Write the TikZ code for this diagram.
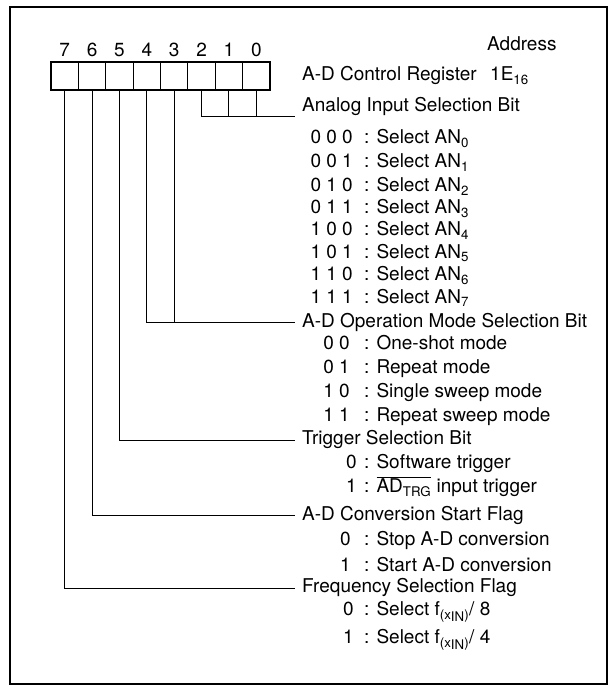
\documentclass[tikz,border=0pt]{standalone}
\usepackage{fontspec}
\setmainfont{TeX Gyre Heros}
\usetikzlibrary{positioning}
\def\regcellw{27.375}
\def\regcellh{28}
\def\linex{295}
\def\headx{302}
\def\colonx{364}

\begin{document}
\begin{tikzpicture}[x=1pt, y=-1pt, font=\fontsize{19}{22}\selectfont,
		regcell/.style={draw, line width=0.9pt, minimum width=\regcellw pt, minimum height=\regcellh pt, inner sep=0pt, outer sep=0pt},
		bitnum/.style={inner sep=0pt, text height=0.72em, text depth=0pt},
		head/.style={anchor=west, inner sep=0pt, text height=0.72em, text depth=0pt},
		code/.style={anchor=east, inner sep=0pt, text height=0.72em, text depth=0pt},
		desc/.style={anchor=west, inner sep=0pt, text height=0.72em, text depth=0pt},
		wire/.style={line width=0.9pt}]
	\useasboundingbox (0,0) rectangle (610,686);
	\draw[line width=2.5pt] (10,7) rectangle (607,684);

	% register cells, bit 7 on the left
	\foreach \b in {0,...,7} {
		\node[regcell] (b\b) at ({51+(7.5-\b)*\regcellw},76) {};
		\node[bitnum, above=5pt of b\b] (n\b) {\b};
	}
	\draw[line width=1.8pt] (b7.north west) rectangle (b0.south east);

	\node[head] (tAddr) at (487,47) {Address};
	\node[head] (hReg) at (\headx,77) {A-D Control Register};
	\node[head] (tAddrval) at (490,77) {1E\textsubscript{16}};

	% junctions of the bit lines
	\coordinate (jAnalog) at (\linex,116);
	\coordinate (jMode) at (\linex,322);
	\coordinate (jTrig) at (\linex,440);
	\coordinate (jConv) at (\linex,515);
	\coordinate (jFreq) at (\linex,588);

	\node[head] (hAnalog) at (\headx,108) {Analog Input Selection Bit};
	\node[code] (cAN0) at (353,140) {0 0 0};
	\node[desc] (dAN0) at (\colonx,140) {: Select AN\textsubscript{0}};
	\node[code] (cAN1) at (353,164) {0 0 1};
	\node[desc] (dAN1) at (\colonx,164) {: Select AN\textsubscript{1}};
	\node[code] (cAN2) at (353,188) {0 1 0};
	\node[desc] (dAN2) at (\colonx,188) {: Select AN\textsubscript{2}};
	\node[code] (cAN3) at (353,210) {0 1 1};
	\node[desc] (dAN3) at (\colonx,210) {: Select AN\textsubscript{3}};
	\node[code] (cAN4) at (353,232) {1 0 0};
	\node[desc] (dAN4) at (\colonx,232) {: Select AN\textsubscript{4}};
	\node[code] (cAN5) at (353,255) {1 0 1};
	\node[desc] (dAN5) at (\colonx,255) {: Select AN\textsubscript{5}};
	\node[code] (cAN6) at (353,277) {1 1 0};
	\node[desc] (dAN6) at (\colonx,277) {: Select AN\textsubscript{6}};
	\node[code] (cAN7) at (353,300) {1 1 1};
	\node[desc] (dAN7) at (\colonx,300) {: Select AN\textsubscript{7}};

	\node[head] (hMode) at (\headx,324) {A-D Operation Mode Selection Bit};
	\node[code] (cMode0) at (350,346) {0 0};
	\node[desc] (dMode0) at (\colonx,346) {: One-shot mode};
	\node[code] (cMode1) at (350,370) {0 1};
	\node[desc] (dMode1) at (\colonx,370) {: Repeat mode};
	\node[code] (cMode2) at (350,394) {1 0};
	\node[desc] (dMode2) at (\colonx,394) {: Single sweep mode};
	\node[code] (cMode3) at (350,418) {1 1};
	\node[desc] (dMode3) at (\colonx,418) {: Repeat sweep mode};

	\node[head] (hTrig) at (\headx,441) {Trigger Selection Bit};
	\node[code] (cTrig0) at (357,465) {0};
	\node[desc] (dTrig0) at (\colonx,465) {: Software trigger};
	\node[code] (cTrig1) at (357,489) {1};
	\node[desc] (dTrig1) at (\colonx,489) {: $\overline{\mbox{AD\textsubscript{TRG}}}$ input trigger};

	\node[head] (hConv) at (\headx,517) {A-D Conversion Start Flag};
	\node[code] (cConv0) at (351,542) {0};
	\node[desc] (dConv0) at (\colonx,542) {: Stop A-D conversion};
	\node[code] (cConv1) at (351,568) {1};
	\node[desc] (dConv1) at (\colonx,568) {: Start A-D conversion};

	\node[head] (hFreq) at (\headx,589) {Frequency Selection Flag};
	\node[code] (cFreq0) at (354,612) {0};
	\node[desc] (dFreq0) at (\colonx,612) {: Select f\textsubscript{(x\raisebox{-0.35ex}{IN})}/ 8};
	\node[code] (cFreq1) at (354,640) {1};
	\node[desc] (dFreq1) at (\colonx,640) {: Select f\textsubscript{(x\raisebox{-0.35ex}{IN})}/ 4};

	% bit lines
	\draw[wire] (b2.south) |- (jAnalog);
	\draw[wire] (b1.south) -- (b1.south |- jAnalog);
	\draw[wire] (b0.south) -- (b0.south |- jAnalog);
	\draw[wire] (b4.south) |- (jMode);
	\draw[wire] (b3.south) -- (b3.south |- jMode);
	\draw[wire] (b5.south) |- (jTrig);
	\draw[wire] (b6.south) |- (jConv);
	\draw[wire] (b7.south) |- (jFreq);
\end{tikzpicture}
\end{document}
